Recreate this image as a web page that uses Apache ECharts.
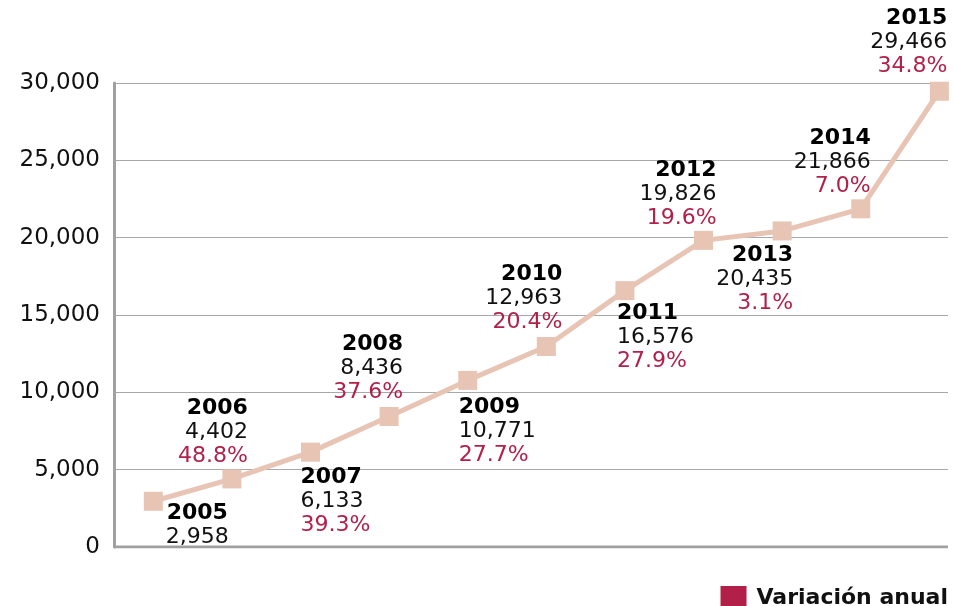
<!DOCTYPE html>
<html>
<head>
<meta charset="utf-8">
<script src="https://cdn.jsdelivr.net/npm/echarts@6/dist/echarts.min.js"></script>
<style>
  html, body { margin: 0; padding: 0; background: #fff; }
  #chart { width: 955px; height: 606px; }
</style>
</head>
<body>
<div id="chart"></div>
<script>
// datos
const years = [2005, 2006, 2007, 2008, 2009, 2010, 2011, 2012, 2013, 2014, 2015];
const totals = [2958, 4402, 6133, 8436, 10771, 12963, 16576, 19826, 20435, 21866, 29466];
const variation = ['', '48.8%', '39.3%', '37.6%', '27.7%', '20.4%', '27.9%', '19.6%', '3.1%', '7.0%', '34.8%'];
const yTicks = [0, 5000, 10000, 15000, 20000, 25000, 30000];

// where each label block sits around its marker
const labelPlace = [
  { offset: [44, 0], align: 'center', v: 'top' },
  { offset: [16, -11], align: 'right', v: 'bottom' },
  { offset: [-10, 13], align: 'left', v: 'top' },
  { offset: [14, -12], align: 'right', v: 'bottom' },
  { offset: [-9, 15], align: 'left', v: 'top' },
  { offset: [16, -12], align: 'right', v: 'bottom' },
  { offset: [-8, 11], align: 'left', v: 'top' },
  { offset: [13, -10], align: 'right', v: 'bottom' },
  { offset: [11, 12], align: 'right', v: 'top' },
  { offset: [10, -11], align: 'right', v: 'bottom' },
  { offset: [8, -13], align: 'right', v: 'bottom' }
];

const crimson = '#b21f48';
const lineColor = '#e7c4b4';
const font = 'DejaVu Sans';

const chart = echarts.init(document.getElementById('chart'));

const fmt = n => n.toLocaleString('en-US');

const points = years.map((y, i) => {
  const p = labelPlace[i];
  const lines = ['{yr|' + y + '}', '{val|' + fmt(totals[i]) + '}'];
  if (variation[i]) lines.push('{pct|' + variation[i] + '}');
  return {
    value: [y, totals[i]],
    label: {
      show: true,
      position: 'inside',
      offset: p.offset,
      align: p.align,
      verticalAlign: p.v,
      formatter: lines.join('\n'),
      rich: {
        yr: { fontFamily: font, fontSize: 22, fontWeight: 'bold', color: '#000', lineHeight: 24, align: p.align },
        val: { fontFamily: font, fontSize: 22, color: '#111', lineHeight: 24, align: p.align },
        pct: { fontFamily: font, fontSize: 22, color: crimson, lineHeight: 24, align: p.align }
      }
    }
  };
});

chart.setOption({
  animation: false,
  grid: { left: 114, right: 7, top: 83, bottom: 59 },
  legend: {
    data: [{ name: 'Variación anual', icon: 'rect' }],
    right: 2,
    top: 581,
    itemWidth: 26,
    itemHeight: 25,
    itemGap: 10,
    textStyle: { fontFamily: font, fontSize: 22, fontWeight: 'bold', color: '#111', padding: [0, 0, 0, 5] },
    selectedMode: false
  },
  xAxis: {
    type: 'value',
    min: 2004.5,
    max: 2015.11,
    axisLine: { show: false },
    axisTick: { show: false },
    axisLabel: { show: false },
    splitLine: { show: false }
  },
  yAxis: {
    type: 'value',
    min: 0,
    max: 30000,
    interval: 5000,
    axisLine: { show: true, lineStyle: { color: '#a0a0a0', width: 3 } },
    axisTick: { show: false },
    axisLabel: {
      margin: 14,
      fontFamily: font,
      fontSize: 23,
      color: '#111',
      formatter: v => yTicks.includes(v) ? fmt(v) : ''
    },
    splitLine: { show: true, lineStyle: { color: '#a8a8a8', width: 1 } }
  },
  series: [
    {
      name: 'Total',
      type: 'line',
      data: points,
      symbol: 'rect',
      symbolSize: 19,
      lineStyle: { color: lineColor, width: 5 },
      itemStyle: { color: lineColor },
      z: 3
    },
    {
      name: 'Variación anual',
      type: 'line',
      data: [],
      itemStyle: { color: crimson },
      lineStyle: { color: crimson }
    },
    {
      // bottom axis bar
      type: 'line',
      data: [[2004.5, 0], [2015.11, 0]],
      symbol: 'none',
      lineStyle: { color: '#a0a0a0', width: 3 },
      silent: true,
      z: 1
    }
  ]
});
</script>
</body>
</html>
